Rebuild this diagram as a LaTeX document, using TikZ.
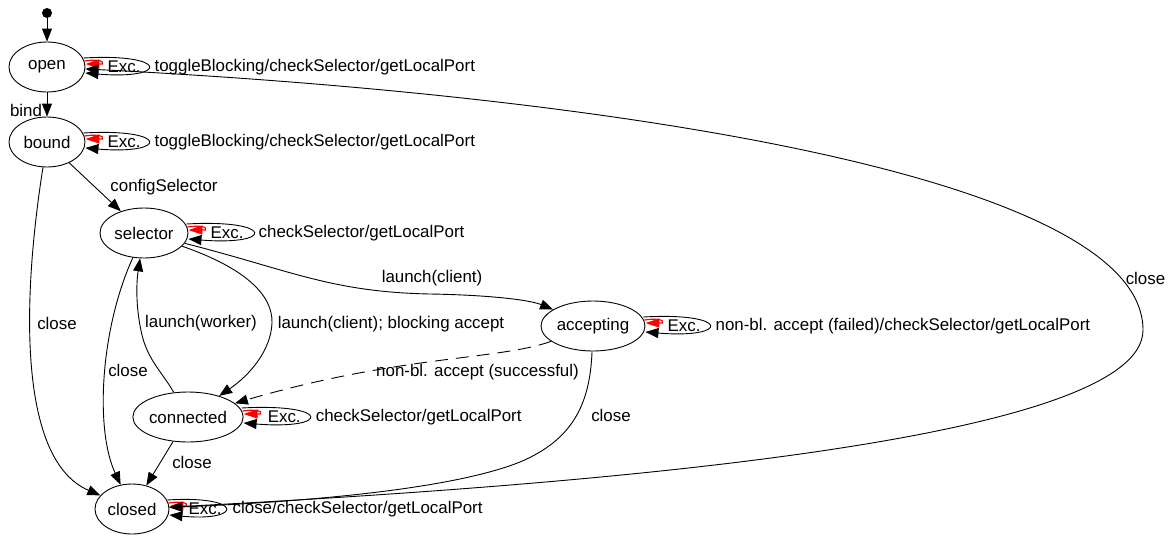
\documentclass[tikz,border=0pt]{standalone}
\usepackage{fontspec}
\setmainfont{Liberation Sans}
\usetikzlibrary{arrows.meta,shapes.geometric,calc}
\newcommand{\excloops}[5]{%
  \draw[arr] ([shift={(-2,-9)}]#1.east) .. controls ([shift={(1.33*#3,-14)}]#1.east) and ([shift={(1.33*#3,13)}]#1.east) .. ([shift={(0,6)}]#1.east);
  \draw[redarr] ([shift={(-1,-6)}]#1.east) .. controls ([shift={(12,-8)}]#1.east) and ([shift={(19,-6)}]#1.east) .. ([shift={(17,-3)}]#1.east) -- ([shift={(0,-3)}]#1.east);
  \node[lbl,anchor=west] (#1exc) at ([shift={(#2,0)}]#1.east) {Exc.};
  \node[lbl,anchor=west] (#1act) at ([shift={(#4,0)}]#1.east) {#5};
}
\begin{document}
\begin{tikzpicture}[x=1pt,y=-1pt,
  font=\fontsize{16.9}{20}\selectfont,
  state/.style={draw, ellipse, line width=0.9pt, inner sep=0pt, minimum height=50pt},
  arr/.style={-{Triangle[length=13pt,width=10pt]}, line width=0.9pt},
  redarr/.style={red, line width=1.2pt, -{Triangle[length=14pt,width=9pt]}},
  lbl/.style={inner sep=0pt},
  dashline/.style={dash pattern=on 13pt off 8pt}
]
\useasboundingbox (0,0) rectangle (1169,536);

% states
\node[circle, fill, inner sep=0pt, minimum size=10pt] (init) at (47,13) {};
\node[state, minimum width=76pt] (open) at (47,67) {open};
\node[state, minimum width=76pt] (bound) at (47,142) {bound};
\node[state, minimum width=88pt] (selector) at (144,233) {selector};
\node[state, minimum width=104pt] (accepting) at (593,326) {accepting};
\node[state, minimum width=108pt] (connected) at (188,417) {connected};
\node[state, minimum width=74pt] (closed) at (132,509) {closed};

% self loops
\excloops{open}{22}{63}{69}{toggleBlocking/checkSelector/getLocalPort}
\excloops{bound}{22}{63}{69}{toggleBlocking/checkSelector/getLocalPort}
\excloops{selector}{22}{65}{70}{checkSelector/getLocalPort}
\excloops{accepting}{22}{64}{70}{non-bl. accept (failed)/checkSelector/getLocalPort}
\excloops{connected}{24}{66}{72}{checkSelector/getLocalPort}
\excloops{closed}{19}{56}{63}{close/checkSelector/getLocalPort}

% edges
\draw[arr] (init) -- (open);
\draw[arr] (open) -- (bound);
\node[lbl] (lbind) at (26,110) {bind};

\draw[arr] (bound) -- (selector);
\node[lbl] (lconfig) at (164,187) {configSelector};

\draw[arr] (bound) .. controls (22,300) and (18,460) .. (closed);
\node[lbl] (lclose1) at (57,323) {close};

\draw[arr] (selector) .. controls (100,330) and (95,430) .. (closed);
\node[lbl] (lclose2) at (128,370) {close};

\draw[arr] (connected) .. controls (162,372) and (148,360) .. (142,335) .. controls (136,310) and (136,285) .. (selector);
\node[lbl] (lworker) at (201,323) {launch(worker)};

\draw[arr] (selector) .. controls (245,268) and (273,295) .. (272,323) .. controls (271,350) and (250,375) .. (connected);
\node[lbl] (lblocking) at (391,324) {launch(client); blocking accept};

\draw[arr] (selector) .. controls (290,270) and (330,292) .. (430,294) .. controls (490,295) and (530,300) .. (accepting);
\node[lbl] (lclient) at (432,278) {launch(client)};

\draw[arr, dashline] (accepting) .. controls (500,360) and (400,355) .. (connected);
\node[lbl] (lnonbl) at (477.5,372) {non-bl. accept (successful)};

\draw[arr] (accepting) .. controls (590,405) and (572,440) .. (520,462) .. controls (450,490) and (300,502) .. (closed);
\node[lbl] (lclose3) at (611,415) {close};

\draw[arr] (connected) -- (closed);
\node[lbl] (lclose4) at (192,462) {close};

\draw[arr] (closed) .. controls (600,485) and (1143,440) .. (1143,330) .. controls (1143,175) and (600,95) .. (open);
\node[lbl] (lclose5) at (1145.5,278) {close};
\end{tikzpicture}
\end{document}
